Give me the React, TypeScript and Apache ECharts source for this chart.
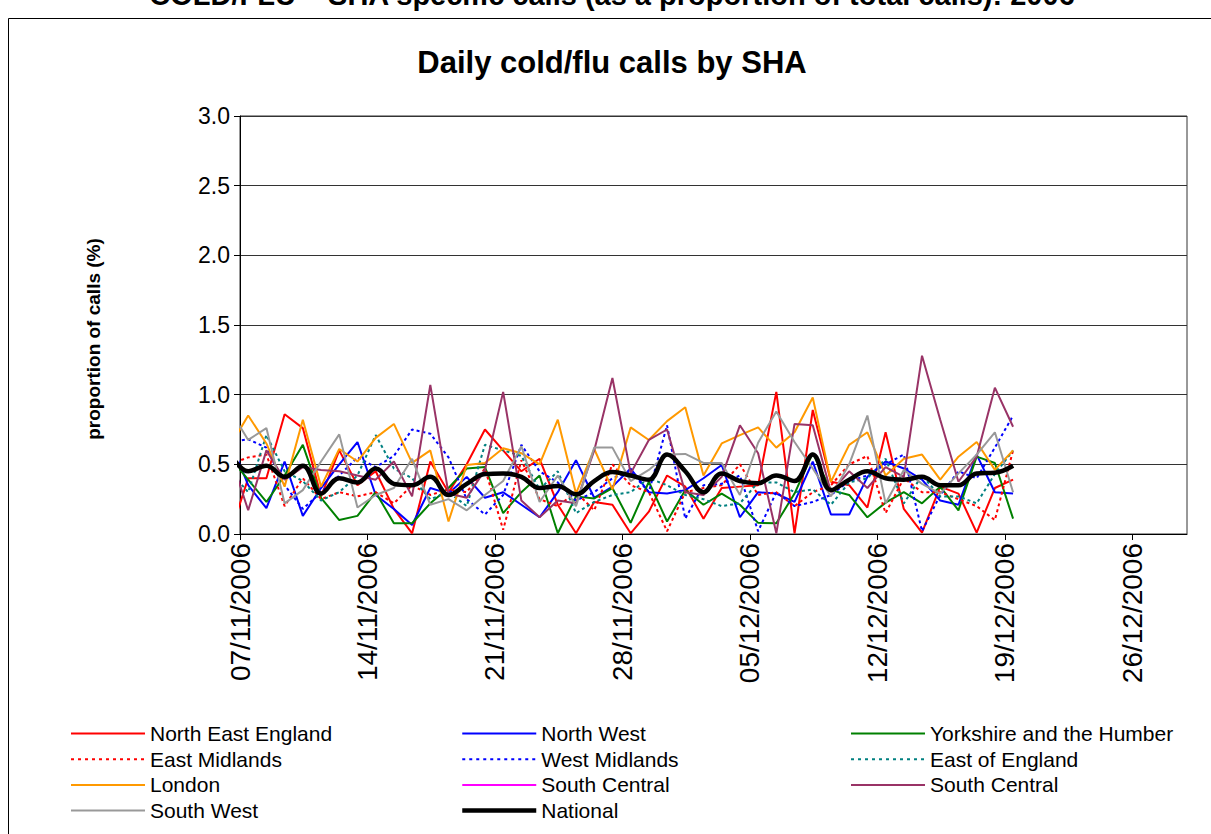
import React, { useEffect, useRef } from 'react';
import * as echarts from 'echarts';

// Reading dates (first one lies before the axis start and is clipped by the plot area)
const dates = [
  '06/11/2006', '07/11/2006', '08/11/2006', '09/11/2006', '10/11/2006', '11/11/2006', '12/11/2006',
  '13/11/2006', '14/11/2006', '15/11/2006', '16/11/2006', '17/11/2006', '18/11/2006', '19/11/2006',
  '20/11/2006', '21/11/2006', '22/11/2006', '23/11/2006', '24/11/2006', '25/11/2006', '26/11/2006',
  '27/11/2006', '28/11/2006', '29/11/2006', '30/11/2006', '01/12/2006', '02/12/2006', '03/12/2006',
  '04/12/2006', '05/12/2006', '06/12/2006', '07/12/2006', '08/12/2006', '09/12/2006', '10/12/2006',
  '11/12/2006', '12/12/2006', '13/12/2006', '14/12/2006', '15/12/2006', '16/12/2006', '17/12/2006',
  '18/12/2006', '19/12/2006',
];
// time of day of each reading, as a fraction of a day
const READING_TIME = 0.45;
const AXIS_START = '07/11/2006';
const AXIS_DAYS = 52;
const tickLabels = ['07/11/2006', '14/11/2006', '21/11/2006', '28/11/2006', '05/12/2006', '12/12/2006', '19/12/2006', '26/12/2006'];

const northEastEngland = [0.0, .40, .40, .86, .76, .27, .60, .35, .45, .18, .005, .52, .30, .50, .75, .60, .45, .54, .21, .005, .23, .21, .005, .16, .42, .34, .11, .33, .34, .35, 1.02, .005, .89, .375, .35, .19, .73, .18, .01, .34, .29, .01, .33, .39];
const northWest = [0.67, .35, .185, .52, .13, .33, .50, .66, .28, .18, .065, .33, .29, .41, .26, .30, .21, .12, .30, .53, .26, .34, .47, .30, .29, .315, .40, .495, .12, .30, .29, .23, .52, .14, .14, .41, .52, .47, .39, .24, .21, .57, .30, .29];
const yorkshire = [0.545, .39, .23, .42, .64, .26, .10, .13, .30, .077, .077, .22, .33, .47, .48, .15, .30, .42, .005, .27, .255, .33, .08, .375, .09, .315, .21, .29, .21, .08, .077, .29, .58, .315, .28, .12, .225, .30, .22, .34, .17, .555, .51, .11];
const eastMidlands = [.50, .55, .57, .20, .40, .25, .30, .27, .30, .22, .35, .28, .32, .30, .47, .03, .53, .25, .20, .30, .17, .50, .35, .30, .02, .30, .33, .35, .50, .28, .30, .20, .30, .35, .50, .56, .15, .40, .30, .30, .25, .20, .10, .60];
const westMidlands = [.66, .68, .62, .35, .18, .30, .42, .55, .48, .56, .75, .72, .55, .25, .14, .28, .64, .45, .37, .24, .30, .40, .45, .30, .78, .11, .35, .36, .42, .02, .30, .20, .23, .28, .38, .42, .50, .57, .02, .28, .45, .40, .62, .85];
const eastOfEngland = [.45, .30, .71, .45, .38, .24, .30, .42, .71, .47, .40, .25, .30, .20, .64, .60, .56, .32, .45, .15, .23, .28, .30, .40, .35, .28, .25, .20, .22, .37, .37, .30, .32, .21, .37, .40, .54, .22, .42, .27, .27, .22, .43, .60];
const london = [.63, .85, .65, .34, .82, .34, .61, .52, .69, .79, .51, .60, .09, .495, .51, .615, .58, .50, .82, .29, .61, .32, .765, .675, .81, .91, .42, .65, .71, .765, .62, .73, .98, .375, .64, .73, .42, .54, .57, .39, .555, .66, .46, .60];
const southCentralA: number[] = [];
const southCentralB = [.57, .17, .60, .39, .48, .46, .45, .42, .39, .52, .27, 1.07, .29, .26, .46, 1.02, .24, .12, .24, .22, .60, 1.12, .435, .675, .75, .30, .28, .41, .78, .58, .005, .79, .78, .30, .45, .33, .48, .41, 1.28, .82, .375, .555, 1.05, .77];
const southWest = [.89, .675, .76, .22, .315, .52, .715, .19, .28, .33, .54, .21, .25, .17, .28, .38, .63, .23, .42, .20, .62, .62, .38, .46, .57, .575, .51, .51, .28, .655, .88, .66, .47, .27, .50, .85, .22, .46, .36, .29, .435, .57, .73, .30];
const national = [.58, .45, .49, .41, .49, .29, .40, .37, .47, .36, .35, .41, .28, .36, .43, .435, .41, .33, .345, .285, .38, .445, .42, .39, .57, .45, .30, .435, .38, .365, .42, .38, .57, .315, .39, .45, .40, .39, .41, .35, .35, .435, .44, .49];

const FONT = "'Liberation Sans', Arial, Helvetica, sans-serif";

function dayNumber(d: string): number {
  const [dd, mm, yy] = d.split('/').map(Number);
  return Date.UTC(yy, mm - 1, dd) / 86400000;
}
const START = dayNumber(AXIS_START);

function toPoints(values: number[]) {
  return values.map((v, i) => [dayNumber(dates[i]) - START + READING_TIME, v]);
}

interface SeriesDef { name: string; data: number[]; color: string; dotted?: boolean; width?: number; smooth?: number }
const seriesDefs: SeriesDef[] = [
  { name: 'North East England', data: northEastEngland, color: '#FF0000' },
  { name: 'North West', data: northWest, color: '#0000FF' },
  { name: 'Yorkshire and the Humber', data: yorkshire, color: '#008000' },
  { name: 'East Midlands', data: eastMidlands, color: '#FF0000', dotted: true },
  { name: 'West Midlands', data: westMidlands, color: '#0000FF', dotted: true },
  { name: 'East of England', data: eastOfEngland, color: '#008080', dotted: true },
  { name: 'London', data: london, color: '#FF9900' },
  { name: 'South Central', data: southCentralA, color: '#FF00FF' },
  { name: 'South Central ', data: southCentralB, color: '#993366' },
  { name: 'South West', data: southWest, color: '#999999' },
  { name: 'National', data: national, color: '#000000', width: 4.5, smooth: 0.4 },
];

function legendItem(name: string) {
  const def = seriesDefs.find((s) => s.name === name)!;
  return {
    name,
    lineStyle: {
      color: def.color,
      width: def.width ?? 2,
      type: def.dotted ? [3, 4] : 'solid',
    },
  };
}

const legendCommon = {
  orient: 'vertical' as const,
  itemWidth: 74,
  itemHeight: 14,
  itemGap: 4.7,
  padding: 0,
  selectedMode: false,
  itemStyle: { opacity: 0, borderWidth: 0 },
  textStyle: { fontSize: 21, color: '#000', fontFamily: FONT, lineHeight: 21 },
};

export default function App() {
  const ref = useRef<HTMLDivElement>(null);
  useEffect(() => {
    const chart = echarts.init(ref.current!, null, { renderer: 'svg' });
    const tickValues = tickLabels.map((t) => dayNumber(t) - START);
    chart.setOption({
      animation: false,
      backgroundColor: '#fff',
      textStyle: { fontFamily: FONT },
      graphic: [
        {
          type: 'rect', z: -10, silent: true,
          shape: { x: 8.5, y: 18.5, width: 1230, height: 840 },
          style: { fill: '#fff', stroke: '#000', lineWidth: 1 },
        },
        {
          type: 'text', x: 612, y: 9,
          style: {
            text: 'COLD/FLU \u2013 SHA specific calls (as a proportion of total calls): 2006',
            fontSize: 29, fontWeight: 'bold', fontFamily: FONT, fill: '#000',
            align: 'center', verticalAlign: 'bottom',
          },
        },
        {
          type: 'text', x: 612, y: 62,
          style: {
            text: 'Daily cold/flu calls by SHA',
            fontSize: 31, fontWeight: 'bold', fontFamily: FONT, fill: '#000',
            align: 'center', verticalAlign: 'middle',
          },
        },
      ],
      grid: {
        left: 240, top: 116, width: 947, height: 418,
        show: true, borderColor: '#333', borderWidth: 1, backgroundColor: 'transparent',
      },
      xAxis: {
        type: 'value', min: 0, max: AXIS_DAYS,
        axisLine: { show: true, lineStyle: { color: '#000', width: 1 } },
        axisTick: { show: true, inside: false, length: 6, customValues: tickValues, lineStyle: { color: '#000' } },
        axisLabel: {
          customValues: tickValues,
          rotate: 90, margin: 9, fontSize: 28, color: '#000', fontFamily: FONT,
          padding: [14, 0, 0, 0],
          formatter: (v: number) => tickLabels[tickValues.indexOf(v)] ?? '',
        },
        splitLine: { show: false },
      },
      yAxis: {
        type: 'value', min: 0, max: 3, interval: 0.5,
        name: 'proportion of calls (%)', nameLocation: 'middle', nameRotate: 90, nameGap: 137,
        nameTextStyle: { fontSize: 19, fontWeight: 'bold', color: '#000', fontFamily: FONT, padding: [0, 28, 0, 0] },
        axisLine: { show: true, lineStyle: { color: '#000', width: 1 } },
        axisTick: { show: true, inside: false, length: 6, lineStyle: { color: '#000' } },
        axisLabel: { fontSize: 23, color: '#000', margin: 10, fontFamily: FONT, formatter: (v: number) => v.toFixed(1) },
        splitLine: { show: true, lineStyle: { color: '#333', width: 1 } },
      },
      legend: [
        { ...legendCommon, left: 70, top: 723, data: ['North East England', 'East Midlands', 'London', 'South West'].map(legendItem) },
        { ...legendCommon, left: 460, top: 723, data: ['North West', 'West Midlands', 'South Central', 'National'].map(legendItem) },
        { ...legendCommon, left: 850, top: 723, data: ['Yorkshire and the Humber', 'East of England', 'South Central '].map(legendItem) },
      ],
      series: seriesDefs.map((s) => ({
        type: 'line',
        name: s.name,
        data: toPoints(s.data),
        symbol: 'none',
        showSymbol: false,
        smooth: s.smooth ?? false,
        clip: true,
        color: s.color,
        lineStyle: { color: s.color, width: s.width ?? 2, type: s.dotted ? [3, 3] : 'solid' },
        emphasis: { disabled: true },
      })),
    });
    return () => chart.dispose();
  }, []);
  return (
    <div
      ref={ref}
      style={{ position: 'absolute', left: 0, top: 0, width: 1211, height: 834, background: '#fff' }}
    />
  );
}
